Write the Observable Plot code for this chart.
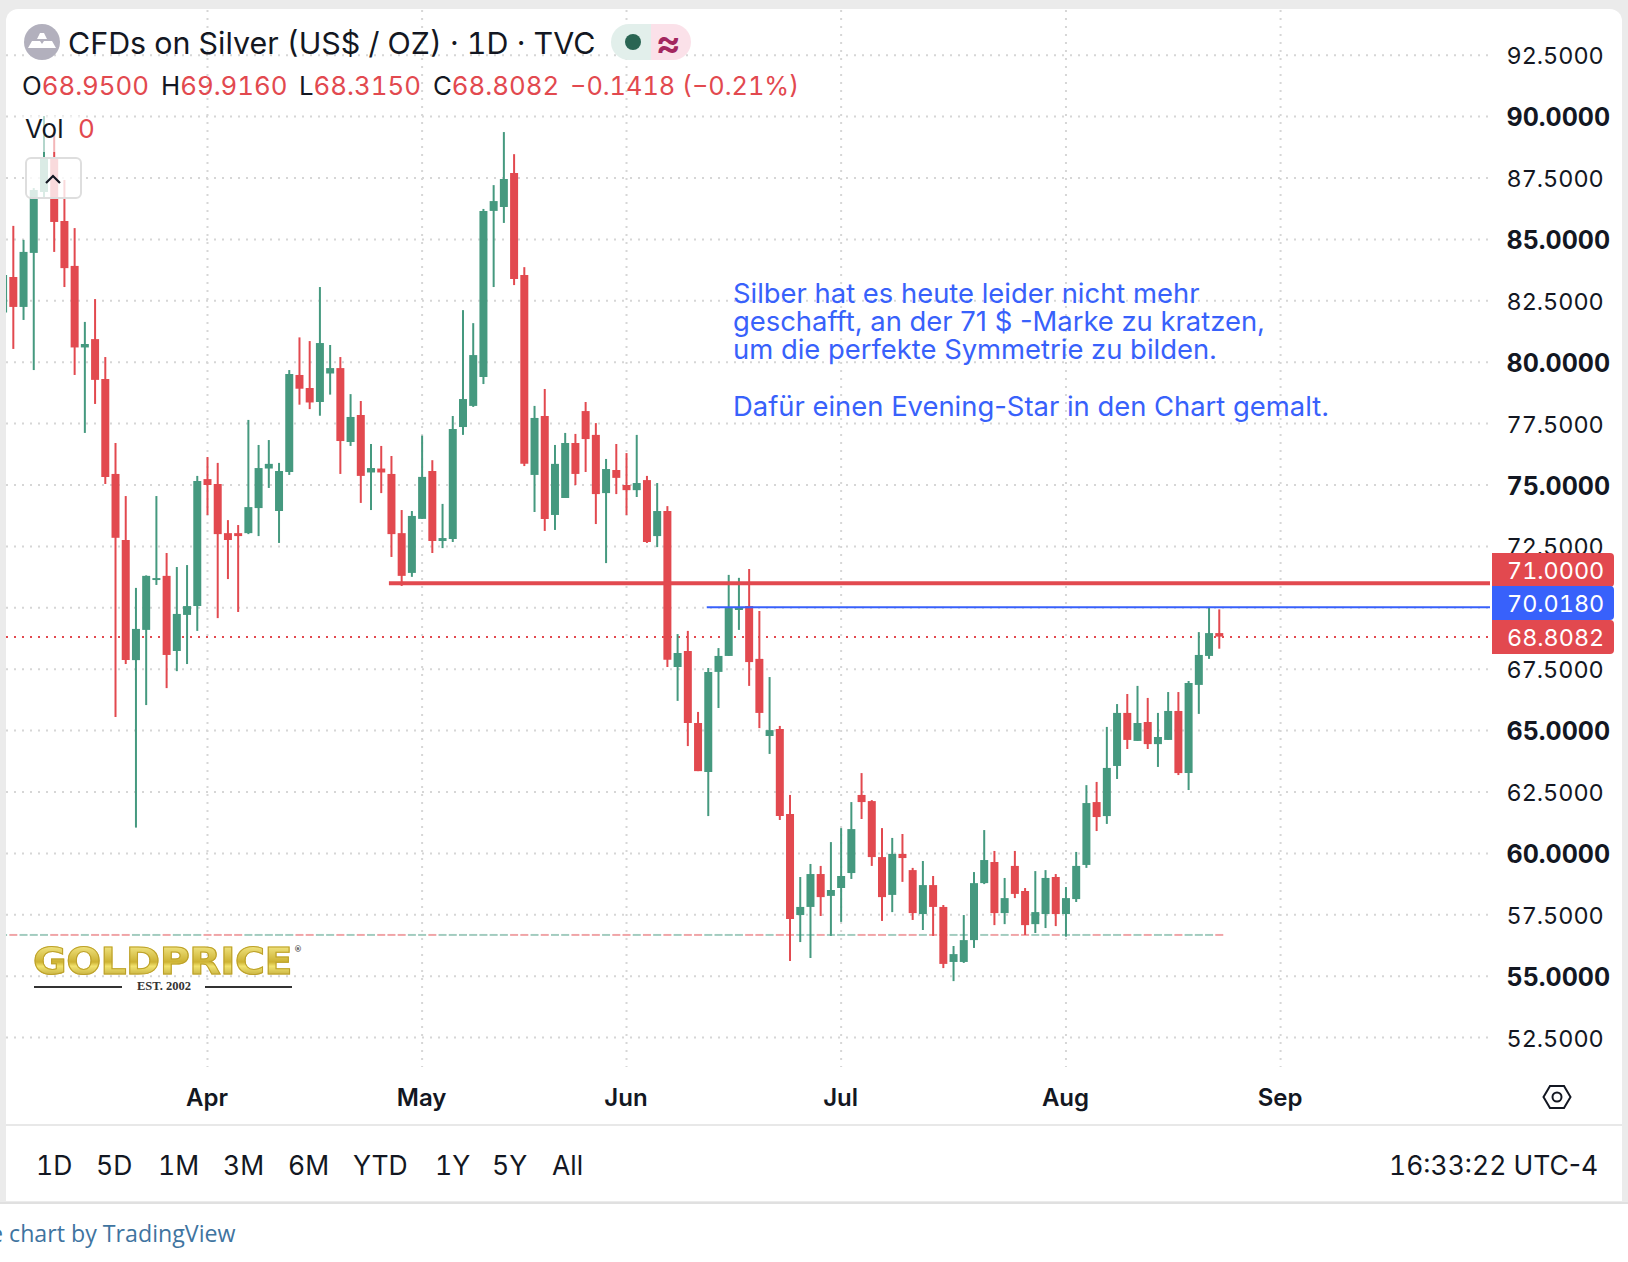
<!DOCTYPE html>
<html lang="en">
<head>
<meta charset="utf-8">
<title>CFDs on Silver</title>
<script src="https://cdn.jsdelivr.net/npm/d3@7"></script>
<script src="https://cdn.jsdelivr.net/npm/@observablehq/plot@0.6"></script>
<style>
html,body{margin:0;padding:0;background:#fff;}
#page{position:relative;width:1628px;height:1262px;overflow:hidden;background:#fff;font-family:Inter,"Noto Sans",sans-serif;color:#131722;font-variant-numeric:tabular-nums;font-feature-settings:"tnum" 1;}
#gray{position:absolute;left:0;top:0;width:1628px;height:1204px;background:#ebebeb;}
#card{position:absolute;left:6px;top:9px;width:1616px;height:1192px;background:#fff;border-radius:12px 12px 0 0;}
#botline{position:absolute;left:0;top:1202px;width:1628px;height:2px;background:#e0e0e0;}
#sep{position:absolute;left:6px;top:1124px;width:1616px;height:2px;background:#e8e8e8;}
#chart{position:absolute;left:0;top:0;font-feature-settings:normal;font-variant-numeric:normal;}
#chart svg{display:block;background:transparent;}
#chart .tnum text{font-variant-numeric:tabular-nums;font-feature-settings:"tnum" 1;}
.abs{position:absolute;white-space:nowrap;line-height:1;}
.red{color:#e2494f;}
.tag{position:absolute;left:1492px;width:122px;height:34px;line-height:35px;color:#fff;font-size:23.4px;padding-left:15px;box-sizing:border-box;border-radius:0 4px 4px 0;}
#volbg{position:absolute;left:22px;top:116px;width:62px;height:36px;background:rgba(255,255,255,.6);}
#btn{position:absolute;left:25px;top:157px;width:57px;height:42px;box-sizing:border-box;border:2px solid #dedede;border-radius:6px;background:rgba(255,255,255,.8);}
.range{position:absolute;top:1152px;font-size:26.5px;line-height:1;}
#logo{position:absolute;left:33px;top:941px;font:bold 38px "DejaVu Sans",sans-serif;letter-spacing:-.5px;background:linear-gradient(#f2e684 10%,#cdb232 50%,#f2e36e 60%,#ad9426 95%);-webkit-background-clip:text;background-clip:text;color:transparent;-webkit-text-stroke:1px #bda12b;line-height:1.1;transform-origin:0 0;transform:scaleX(1.08);}
#est{position:absolute;left:137px;top:979px;font:bold 12.5px "Liberation Serif",serif;color:#333;}
.ln{position:absolute;top:986px;height:2px;background:#333;}
</style>
</head>
<body>
<div id="page">
  <div id="gray"></div><div id="card"></div><div id="botline"></div><div id="sep"></div>
  <div id="chart"></div>

  <div id="volbg"></div>
  <svg class="abs" style="left:23px;top:23px" width="38" height="38" viewBox="0 0 38 38"><circle cx="19" cy="19" r="18" fill="#b2b0bd"/><path d="M14 16 L17 10 H21 L24 16Z M5 25 L9 18 H17 L19 21 L21 18 H29 L33 25Z" fill="#fff"/></svg>
  <div class="abs" style="left:68px;top:28px;font-size:30.4px">CFDs on Silver (US$ / OZ) · 1D · TVC</div>
  <div class="abs" style="left:611px;top:24px;width:40px;height:36px;background:#e2efeb;border-radius:18px 0 0 18px"></div>
  <div class="abs" style="left:651px;top:24px;width:40px;height:36px;background:#fbe1e9;border-radius:0 18px 18px 0"></div>
  <div class="abs" style="left:625px;top:34px;width:16px;height:16px;background:#2a6553;border-radius:50%"></div>
  <div class="abs" style="left:656px;top:23px;font-size:38px;font-weight:600;color:#a3275f">≈</div>

  <div class="abs" style="left:22px;top:73px;font-size:25.8px">O<span class="red">68.9500</span></div>
  <div class="abs" style="left:161px;top:73px;font-size:25.8px">H<span class="red">69.9160</span></div>
  <div class="abs" style="left:299px;top:73px;font-size:25.8px">L<span class="red">68.3150</span></div>
  <div class="abs" style="left:433px;top:73px;font-size:25.8px">C<span class="red">68.8082</span></div>
  <div class="abs red" style="left:570px;top:73px;font-size:25.3px">−0.1418 (−0.21%)</div>
  <div class="abs" style="left:25px;top:116px;font-size:26px">Vol</div>
  <div class="abs red" style="left:78px;top:116px;font-size:26px">0</div>
  <div id="btn"></div>
  <svg class="abs" style="left:43px;top:172px" width="20" height="14" viewBox="0 0 20 14"><path d="M3 11 L10 4 L17 11" fill="none" stroke="#131722" stroke-width="2.2"/></svg>

  <div id="logo">GOLDPRICE</div>
  <div class="abs" style="left:294px;top:945px;font:bold 8px 'DejaVu Sans';color:#555">®</div>
  <div class="ln" style="left:34px;width:88px"></div>
  <div id="est">EST. 2002</div>
  <div class="ln" style="left:205px;width:87px"></div>

  <div class="tag" style="top:553px;background:#e2494f">71.0000</div>
  <div class="tag" style="top:586px;background:#3861fb">70.0180</div>
  <div class="tag" style="top:620px;background:#e2494f">68.8082</div>

  <svg class="abs" style="left:1542px;top:1083px" width="30" height="28" viewBox="0 0 30 28"><path d="M8 3 H22 L28.5 14 L22 25 H8 L1.5 14Z" fill="none" stroke="#131722" stroke-width="2"/><circle cx="15" cy="14" r="4.5" fill="none" stroke="#131722" stroke-width="2"/></svg>

  <div class="range" style="left:36px">1D</div>
  <div class="range" style="left:96px">5D</div>
  <div class="range" style="left:158px">1M</div>
  <div class="range" style="left:223px">3M</div>
  <div class="range" style="left:288px">6M</div>
  <div class="range" style="left:353px">YTD</div>
  <div class="range" style="left:435px">1Y</div>
  <div class="range" style="left:492px">5Y</div>
  <div class="range" style="left:552px">All</div>
  <div class="range" style="left:1389px">16:33:22 <span style="font-feature-settings:normal;font-variant-numeric:normal">UTC-4</span></div>

  <div class="abs" style="left:-10px;top:1217px;font:23.2px 'Open Sans',sans-serif;color:#3f74a0">e chart by TradingView</div>
</div>

<script>
// Daily bars, numbered from the first session of April (Apr = 0).
const firstBar = -20;
const opens = [82.0,83.45,82.23,84.43,86.91,88.33,85.73,83.90,80.58,80.92,79.30,75.43,72.74,67.85,69.08,71.11,71.28,68.22,69.69,70.05,
75.22,75.02,73.02,73.02,73.02,74.04,75.65,73.92,75.51,79.46,78.93,78.36,79.52,79.74,76.73,77.83,75.49,75.65,75.43,73.02,71.40,
73.60,75.55,72.70,72.78,77.34,78.20,79.38,86.14,86.30,87.68,83.53,75.39,77.79,73.76,74.45,76.69,77.99,77.02,74.65,75.59,74.98,74.77,75.18,72.90,73.92,
67.57,68.22,65.29,63.29,67.37,68.02,69.89,70.05,67.90,64.76,65.04,61.58,57.47,57.80,59.14,58.25,58.57,59.18,62.36,62.11,59.83,58.29,59.96,59.30,57.51,58.69,57.80,55.56,55.56,56.45,58.77,59.63,57.55,59.47,58.45,57.10,57.51,59.02,
57.51,58.12,59.51,62.07,61.50,63.54,65.70,64.56,65.33,64.43,64.60,65.78,63.25,66.84,68.02,68.95];
const closes = [83.53,82.23,84.47,86.99,88.33,85.69,83.81,80.58,80.72,79.26,75.31,72.83,67.85,69.12,71.28,71.19,68.06,69.73,70.05,75.14,
74.98,72.98,72.74,72.90,74.08,75.67,75.84,75.55,79.50,78.90,78.34,80.76,79.74,76.77,77.75,75.35,75.67,75.49,72.98,71.28,73.72,
75.31,72.70,72.82,77.26,78.48,80.27,86.14,86.54,87.44,83.37,75.84,77.71,73.60,75.84,76.69,75.43,76.85,74.61,75.63,75.27,74.77,75.06,72.66,73.92,67.86,
68.14,65.29,63.33,67.37,68.02,69.97,70.01,67.77,65.70,65.00,61.50,57.31,57.80,59.14,58.20,58.49,59.06,60.97,62.07,59.83,58.20,59.96,59.79,57.55,58.69,57.80,55.48,55.88,56.45,58.77,59.71,57.55,58.16,58.33,57.06,57.59,58.98,57.51,
58.16,59.47,62.03,61.46,63.46,65.70,64.60,65.29,64.43,64.72,65.78,63.25,66.92,68.06,68.95,68.8082];
const highs = [83.53,85.53,84.96,87.07,90.0,89.35,87.40,85.44,81.62,82.55,80.19,76.69,74.53,70.79,71.30,74.53,72.21,71.64,71.72,75.35,
76.12,75.88,73.55,73.35,77.63,76.61,76.81,75.88,79.66,80.99,80.84,83.04,80.68,80.19,78.68,78.40,76.65,76.57,76.16,73.96,73.92,
76.99,75.99,74.21,77.79,82.10,81.57,86.22,87.19,89.35,88.45,83.85,78.20,78.89,76.61,77.10,77.06,78.36,77.50,76.04,76.65,76.28,77.02,75.35,75.06,74.12,
68.91,69.04,65.74,67.53,68.34,71.32,71.20,71.56,69.85,67.16,65.17,62.36,59.02,59.55,59.47,60.44,61.01,62.07,63.25,62.15,61.01,60.61,60.77,59.39,59.67,59.06,57.88,56.21,57.47,59.22,60.93,60.08,58.98,60.08,58.57,59.26,59.30,59.14,
58.61,60.04,62.76,62.89,65.13,66.06,66.47,66.80,66.31,65.70,66.55,66.55,67.00,68.99,70.018,69.916];
const lows = [82.0,80.52,81.70,79.66,86.67,84.47,83.04,79.46,77.10,78.28,75.02,65.53,67.69,61.03,66.02,70.91,66.71,67.40,67.69,69.04,
73.76,69.56,71.15,69.81,72.98,72.90,74.86,72.62,75.39,78.25,78.07,77.80,78.66,75.43,76.57,74.25,73.96,74.65,72.05,70.87,71.24,
73.60,72.21,72.41,72.66,77.02,78.16,79.09,83.04,85.65,83.12,75.75,73.88,73.11,73.15,74.45,74.98,75.51,73.39,71.80,74.61,73.76,74.49,72.62,72.45,67.57,
66.19,64.35,63.33,61.50,65.90,68.02,69.08,66.80,65.08,64.03,61.34,55.60,56.37,55.72,57.43,56.62,57.19,58.94,61.38,59.47,57.23,57.59,58.82,57.27,56.86,56.62,55.31,54.78,55.52,56.13,58.73,57.06,57.10,58.16,56.66,56.74,56.94,57.02,
56.59,58.00,59.39,60.89,61.18,63.01,64.23,64.56,64.23,63.50,64.60,63.17,62.56,65.66,67.90,68.315];

const boldTicks = [55,60,65,75,80,85,90];
const thinTicks = [52.5,57.5,62.5,67.5,72.5,77.5,82.5,87.5,92.5];
const gridTicks = [52.5,55,57.5,60,62.5,65,67.5,70,72.5,75,77.5,80,82.5,85,87.5,90,92.5];
const monthBars = [0,21,41,62,84,105];
const monthNames = ["Apr","May","Jun","Jul","Aug","Sep"];
const lastPrice = 68.8082;
const resistance = {price:71, fromBar:17.8};
const recentHigh = {price:70.018, fromBar:48.9};
const volumeBase = 56.66;
const note = "Silber hat es heute leider nicht mehr\ngeschafft, an der 71 $ -Marke zu kratzen,\num die perfekte Symmetrie zu bilden.\n\nDafür einen Evening-Star in den Chart gemalt.";

const RED="#e2494f", GREEN="#45997f", BLUE="#3861fb", GRID="#d6d6d6";
const bars = opens.map((o,k)=>({bar:firstBar+k,open:o,close:closes[k],high:highs[k],low:lows[k],color:closes[k]<o?RED:GREEN}));
const xEnd = 125.54;

const grid = {strokeDasharray:"2 6",strokeWidth:2,stroke:GRID,strokeOpacity:1};
const plot = Plot.plot({
  width:1628,height:1125,
  marginLeft:6,marginRight:138,marginTop:10,marginBottom:58,
  x:{type:"linear",domain:[-19.667,xEnd],label:null},
  y:{type:"linear",domain:[51.283,94.32],label:null},
  style:{fontFamily:"Inter, sans-serif",background:"transparent",color:"#131722",overflow:"visible"},
  marks:[
    Plot.gridY(gridTicks,grid),
    Plot.gridX(monthBars,grid),
    Plot.ruleY([lastPrice],{stroke:RED,strokeWidth:2,strokeDasharray:"2 6"}),
    Plot.ruleX(bars,{x:"bar",y1:volumeBase-0.04,y2:volumeBase+0.04,stroke:"color",strokeWidth:8,strokeOpacity:0.5,clip:true}),
    Plot.ruleX(bars,{x:"bar",y1:"low",y2:"high",stroke:"color",strokeWidth:2,clip:true}),
    Plot.ruleX(bars,{x:"bar",y1:"open",y2:"close",stroke:"color",strokeWidth:8,clip:true}),
    Plot.ruleY([resistance.price],{x1:resistance.fromBar,x2:xEnd,stroke:RED,strokeWidth:4}),
    Plot.ruleY([recentHigh.price],{x1:recentHigh.fromBar,x2:xEnd,stroke:BLUE,strokeWidth:2}),
    Plot.text([note],{x:51.42,y:83.21,text:d=>d,textAnchor:"start",lineAnchor:"top",lineHeight:1.025,fontSize:27.4,fill:BLUE}),
    Plot.axisY({anchor:"right",ticks:boldTicks,tickSize:0,tickPadding:16,fontSize:25,fontWeight:700,dy:1.5,className:"tnum",tickFormat:d=>d.toFixed(4),label:null,fill:"#131722"}),
    Plot.axisY({anchor:"right",ticks:thinTicks,tickSize:0,tickPadding:16,fontSize:23.4,fontWeight:400,dy:1.5,className:"tnum",tickFormat:d=>d.toFixed(4),label:null,fill:"#131722"}),
    Plot.axisX({anchor:"bottom",ticks:monthBars,tickSize:0,tickPadding:21,fontSize:24,fontWeight:600,dx:-0.5,tickFormat:d=>monthNames[monthBars.indexOf(d)],label:null,fill:"#131722"})
  ]
});
document.getElementById("chart").appendChild(plot);
</script>
</body>
</html>
